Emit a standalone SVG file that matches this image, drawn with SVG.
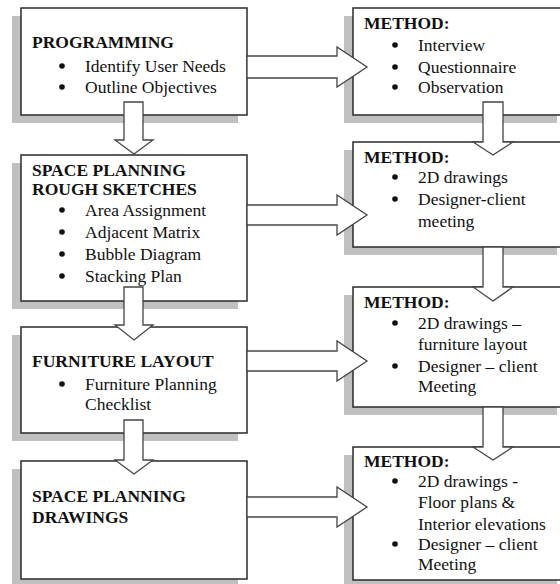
<svg xmlns="http://www.w3.org/2000/svg" width="560" height="584" viewBox="0 0 560 584">
<style>
.shadow{fill:#c0c0c0}
.box{fill:#fff;stroke:#2a2a2a;stroke-width:1.5}
.t{font-family:"Liberation Serif","Times New Roman","DejaVu Serif",serif;font-size:17.5px;fill:#111}
.b{font-weight:bold}
.dot{fill:#111}
.arr{fill:#fff;stroke:#444;stroke-width:1.3;stroke-linejoin:miter}
</style>
<rect width="560" height="584" fill="#fff"/>
<g id="programming">
<rect class="shadow" x="12" y="16" width="226" height="107"/>
<rect class="box" x="21" y="8" width="226" height="107"/>
<text class="t b" x="32" y="48">PROGRAMMING</text>
<circle class="dot" cx="62" cy="66" r="2.8"/><text class="t" x="85" y="72">Identify User Needs</text>
<circle class="dot" cx="62" cy="87" r="2.8"/><text class="t" x="85" y="93">Outline Objectives</text>
</g>
<g id="space-planning-rough">
<rect class="shadow" x="12" y="163" width="226" height="146"/>
<rect class="box" x="21" y="155" width="226" height="146"/>
<text class="t b" x="32" y="176">SPACE PLANNING</text>
<text class="t b" x="32" y="195">ROUGH SKETCHES</text>
<circle class="dot" cx="62" cy="210" r="2.8"/><text class="t" x="85" y="216">Area Assignment</text>
<circle class="dot" cx="62" cy="232" r="2.8"/><text class="t" x="85" y="238">Adjacent Matrix</text>
<circle class="dot" cx="62" cy="254" r="2.8"/><text class="t" x="85" y="260">Bubble Diagram</text>
<circle class="dot" cx="62" cy="276" r="2.8"/><text class="t" x="85" y="282">Stacking Plan</text>
</g>
<g id="furniture-layout">
<rect class="shadow" x="12" y="335" width="226" height="106"/>
<rect class="box" x="21" y="327" width="226" height="106"/>
<text class="t b" x="32" y="367">FURNITURE LAYOUT</text>
<circle class="dot" cx="62" cy="384" r="2.8"/><text class="t" x="85" y="390">Furniture Planning</text>
<text class="t" x="85" y="410">Checklist</text>
</g>
<g id="space-planning-drawings">
<rect class="shadow" x="12" y="469" width="226" height="118"/>
<rect class="box" x="21" y="461" width="226" height="118"/>
<text class="t b" x="32" y="502">SPACE PLANNING</text>
<text class="t b" x="32" y="523">DRAWINGS</text>
</g>
<g id="method-1">
<rect class="shadow" x="344" y="16" width="213" height="107"/>
<rect class="box" x="353" y="8" width="213" height="107"/>
<text class="t b" x="364" y="29">METHOD:</text>
<circle class="dot" cx="395" cy="45" r="2.8"/><text class="t" x="418" y="51">Interview</text>
<circle class="dot" cx="395" cy="67" r="2.8"/><text class="t" x="418" y="73">Questionnaire</text>
<circle class="dot" cx="395" cy="87" r="2.8"/><text class="t" x="418" y="93">Observation</text>
</g>
<g id="method-2">
<rect class="shadow" x="344" y="150" width="213" height="105"/>
<rect class="box" x="353" y="142" width="213" height="105"/>
<text class="t b" x="364" y="163">METHOD:</text>
<circle class="dot" cx="395" cy="177" r="2.8"/><text class="t" x="418" y="183">2D drawings</text>
<circle class="dot" cx="395" cy="199" r="2.8"/><text class="t" x="418" y="205">Designer-client</text>
<text class="t" x="418" y="227">meeting</text>
</g>
<g id="method-3">
<rect class="shadow" x="344" y="295" width="213" height="120"/>
<rect class="box" x="353" y="287" width="213" height="120"/>
<text class="t b" x="364" y="308">METHOD:</text>
<circle class="dot" cx="395" cy="323" r="2.8"/><text class="t" x="418" y="329">2D drawings –</text>
<text class="t" x="418" y="350">furniture layout</text>
<circle class="dot" cx="395" cy="366" r="2.8"/><text class="t" x="418" y="372">Designer – client</text>
<text class="t" x="418" y="392">Meeting</text>
</g>
<g id="method-4">
<rect class="shadow" x="344" y="455" width="213" height="133"/>
<rect class="box" x="353" y="447" width="213" height="133"/>
<text class="t b" x="364" y="467">METHOD:</text>
<circle class="dot" cx="395" cy="481" r="2.8"/><text class="t" x="418" y="487">2D drawings -</text>
<text class="t" x="418" y="508">Floor plans &amp;</text>
<text class="t" x="418" y="530">Interior elevations</text>
<circle class="dot" cx="395" cy="544" r="2.8"/><text class="t" x="418" y="550">Designer – client</text>
<text class="t" x="418" y="570">Meeting</text>
</g>
<g id="connectors">
<path class="arr" d="M124,102 H143 V140 H153 L134,154 L115,140 H124 Z"/>
<path class="arr" d="M124,287 H143 V325 H153 L134,340 L115,325 H124 Z"/>
<path class="arr" d="M124,420 H143 V460 H153 L134,474 L115,460 H124 Z"/>
<path class="arr" d="M483,102 H503 V142 H513 L493,155 L473,142 H483 Z"/>
<path class="arr" d="M483,247 H503 V287 H513 L493,301 L473,287 H483 Z"/>
<path class="arr" d="M483,407 H503 V447 H513 L493,460 L473,447 H483 Z"/>
<path class="arr" d="M247,56 H337 V47 L367,67 L337,87 V78 H247 Z"/>
<path class="arr" d="M247,205 H337 V195 L367,215 L337,235 V225 H247 Z"/>
<path class="arr" d="M247,351 H337 V341 L367,361 L337,381 V371 H247 Z"/>
<path class="arr" d="M247,497 H337 V487 L367,507 L337,527 V517 H247 Z"/>
</g>
</svg>
